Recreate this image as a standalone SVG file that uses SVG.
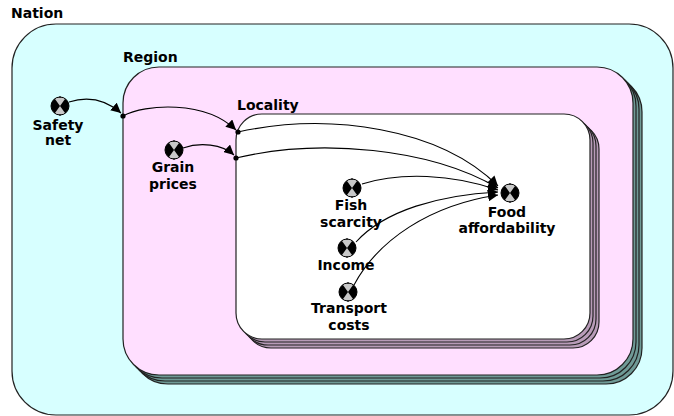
<svg xmlns="http://www.w3.org/2000/svg" xmlns:xlink="http://www.w3.org/1999/xlink" width="674" height="416" viewBox="0 0 674 416">
<style>
  text { font-family: "DejaVu Sans", "Liberation Sans", sans-serif; font-weight: bold; font-size: 14px; fill: #000; }
  .lbl { text-anchor: middle; }
  .frame { stroke: #222; stroke-width: 1.2; }
  .nation { fill: #d7ffff; }
  .region { fill: #ffdfff; }
  .regstack { fill: #6f9a96; }
  .local { fill: #ffffff; }
  .locstack { fill: #b89cb8; }
  .conn { fill: none; stroke: #000; stroke-width: 1.1; }
  .dot { fill: #000; }
</style>
<defs>
  <marker id="arr" markerUnits="userSpaceOnUse" markerWidth="12" markerHeight="10" refX="10" refY="5" orient="auto">
    <path d="M0,0 L10,5 L0,10 Z" fill="#000"/>
  </marker>
  <g id="icon">
    <circle cx="0" cy="0" r="9" fill="#000"/>
    <path d="M0,0 L-5.2,-7.3 A9 9 0 0 1 5.2,-7.3 Z" fill="#c8c8c8"/>
    <path d="M0,0 L-5.2,7.3 A9 9 0 0 0 5.2,7.3 Z" fill="#c8c8c8"/>
    <circle cx="0" cy="0" r="9" fill="none" stroke="#000" stroke-width="1"/>
    <line x1="0" y1="-10" x2="0" y2="-8" stroke="#000" stroke-width="1"/>
    <line x1="0" y1="8" x2="0" y2="10" stroke="#000" stroke-width="1"/>
  </g>
</defs>

<g id="nation">
  <rect class="frame nation" x="12" y="24" width="661" height="391" rx="44" ry="44"/>
  <text x="11" y="18">Nation</text>
</g>

<g id="region">
  <rect class="frame regstack" x="132" y="76" width="510" height="308" rx="36" ry="36"/>
  <rect class="frame regstack" x="129" y="73" width="510" height="308" rx="36" ry="36"/>
  <rect class="frame regstack" x="126" y="70" width="510" height="308" rx="36" ry="36"/>
  <rect class="frame region" x="123" y="67" width="510" height="308" rx="36" ry="36"/>
  <text x="123" y="62">Region</text>
</g>

<g id="locality">
  <rect class="frame locstack" x="245" y="123" width="354" height="225" rx="26" ry="26"/>
  <rect class="frame locstack" x="242" y="120" width="354" height="225" rx="26" ry="26"/>
  <rect class="frame locstack" x="239" y="117" width="354" height="225" rx="26" ry="26"/>
  <rect class="frame local" x="236" y="114" width="354" height="225" rx="26" ry="26"/>
  <text x="237" y="110">Locality</text>
</g>

<g id="connectors">
  <path class="conn" d="M69,102 C 88,96 106,100 121,113" marker-end="url(#arr)"/>
  <path class="conn" d="M123,116 C 145,104 205,100 236,130" marker-end="url(#arr)"/>
  <path class="conn" d="M238,132 C 330,112 440,128 498,186" marker-end="url(#arr)"/>
  <path class="conn" d="M183,148 C 200,142 222,144 234,155" marker-end="url(#arr)"/>
  <path class="conn" d="M236,158 C 320,138 430,148 498,188" marker-end="url(#arr)"/>
  <path class="conn" d="M362,184 C 400,172 452,174 498,190" marker-end="url(#arr)"/>
  <path class="conn" d="M356,242 C 385,210 440,195 498,192" marker-end="url(#arr)"/>
  <path class="conn" d="M354,285 C 378,240 430,205 498,195" marker-end="url(#arr)"/>
  <circle class="dot" cx="123" cy="116" r="2.6"/>
  <circle class="dot" cx="238" cy="132" r="2.6"/>
  <circle class="dot" cx="236" cy="158" r="2.6"/>
</g>

<g id="safety-net">
  <use xlink:href="#icon" href="#icon" x="60" y="106"/>
  <text class="lbl" x="58" y="130">Safety</text>
  <text class="lbl" x="58" y="145">net</text>
</g>
<g id="grain-prices">
  <use xlink:href="#icon" href="#icon" x="174" y="150"/>
  <text class="lbl" x="173" y="172">Grain</text>
  <text class="lbl" x="173" y="189">prices</text>
</g>
<g id="fish-scarcity">
  <use xlink:href="#icon" href="#icon" x="352" y="188"/>
  <text class="lbl" x="351" y="210">Fish</text>
  <text class="lbl" x="351" y="227">scarcity</text>
</g>
<g id="income">
  <use xlink:href="#icon" href="#icon" x="347" y="248"/>
  <text class="lbl" x="346" y="270">Income</text>
</g>
<g id="transport-costs">
  <use xlink:href="#icon" href="#icon" x="348" y="292"/>
  <text class="lbl" x="349" y="313">Transport</text>
  <text class="lbl" x="349" y="330">costs</text>
</g>
<g id="food-affordability">
  <use xlink:href="#icon" href="#icon" x="510" y="193"/>
  <text class="lbl" x="507" y="217">Food</text>
  <text class="lbl" x="507" y="233">affordability</text>
</g>
</svg>
